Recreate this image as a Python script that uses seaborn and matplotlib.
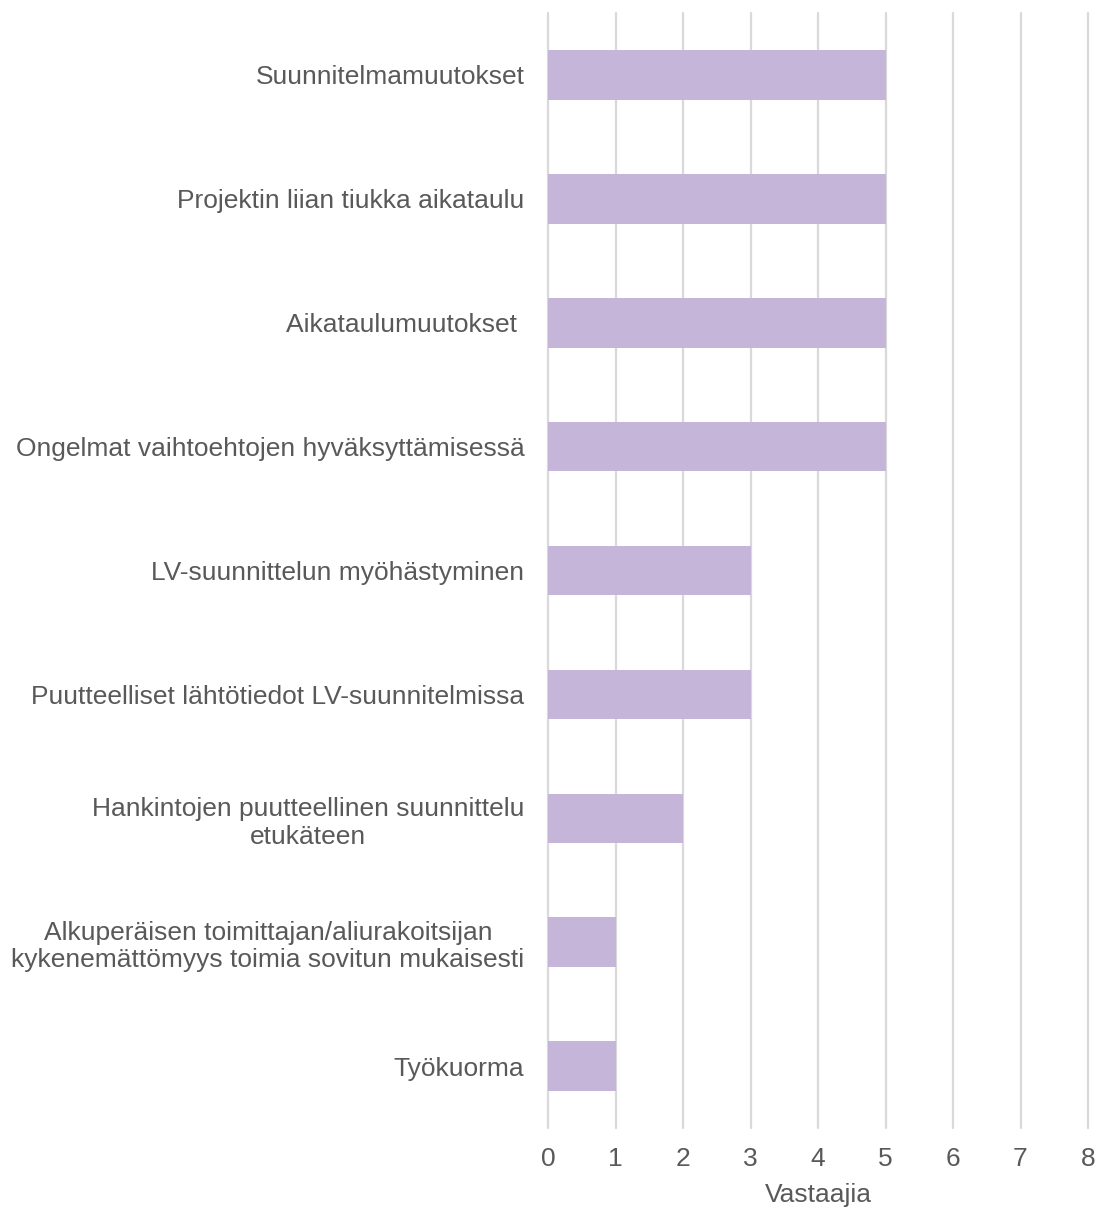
import matplotlib
matplotlib.use("Agg")
import matplotlib.pyplot as plt
import seaborn as sns
import pandas as pd

categories = [
    "Suunnitelmamuutokset",
    "Projektin liian tiukka aikataulu",
    "Aikataulumuutokset ",
    "Ongelmat vaihtoehtojen hyväksyttämisessä",
    "LV-suunnittelun myöhästyminen",
    "Puutteelliset lähtötiedot LV-suunnitelmissa",
    "Hankintojen puutteellinen suunnittelu\netukäteen",
    "Alkuperäisen toimittajan/aliurakoitsijan\nkykenemättömyys toimia sovitun mukaisesti",
    "Työkuorma",
]
values = [5, 5, 5, 5, 3, 3, 2, 1, 1]
x_ticks = [0, 1, 2, 3, 4, 5, 6, 7, 8]
x_label = "Vastaajia"

sns.set_theme(style="white")
plt.rcParams["font.family"] = ["Liberation Sans", "DejaVu Sans"]

text_color = "#595959"
grid_color = "#D9D9D9"
bar_color = "#C5B6D9"
fs = 19

df = pd.DataFrame({"cat": categories, "val": values})

fig = plt.figure(figsize=(10.99, 12.11), dpi=100)
ax = fig.add_axes([548 / 1099, 1 - 1128 / 1211, (1088 - 548) / 1099, (1128 - 13) / 1211])

sns.barplot(data=df, x="val", y="cat", orient="h", color=bar_color,
            width=0.4, saturation=1, linewidth=0, ax=ax)

ax.set_xlim(0, 8)
ax.set_ylim(len(categories) - 0.5, -0.5)
ax.set_xticks(x_ticks)
ax.set_xticklabels([str(t) for t in x_ticks])
ax.set_axisbelow(True)
ax.xaxis.grid(True, color=grid_color, linewidth=1.6)
ax.yaxis.grid(False)
for gl in ax.get_xgridlines():
    gl.set_clip_on(False)
for s in ax.spines.values():
    s.set_visible(False)

ax.tick_params(axis="x", length=0, pad=14, labelsize=fs, labelcolor=text_color)
ax.tick_params(axis="y", length=0, pad=17, labelsize=fs, labelcolor=text_color)
for lbl in ax.get_yticklabels():
    lbl.set_multialignment("center")
    lbl.set_linespacing(1.2)

ax.set_ylabel("")
ax.set_xlabel(x_label, fontsize=fs, color=text_color, labelpad=8)

fig.savefig("out.png", dpi=100, facecolor="white")
